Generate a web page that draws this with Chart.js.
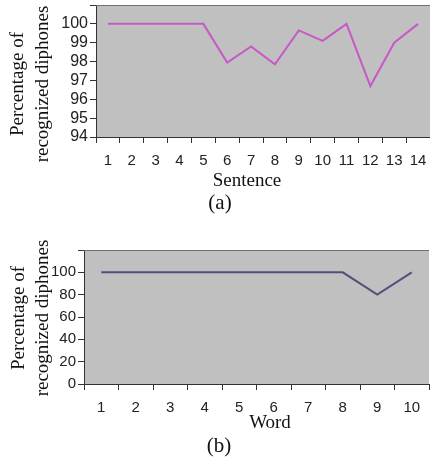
<!DOCTYPE html>
<html>
<head>
<meta charset="utf-8">
<script src="https://cdn.jsdelivr.net/npm/chart.js@4/dist/chart.umd.min.js"></script>
<style>
    body { margin: 0; background: #fff; }
    .panel { position: absolute; left: 0; width: 430px; }
    #panelA { top: 0; height: 220px; }
    #panelB { top: 220px; height: 239px; }
</style>
</head>
<body>
<div class="panel" id="panelA"><canvas id="sentenceChart"></canvas></div>
<div class="panel" id="panelB"><canvas id="wordChart"></canvas></div>
<script>
// Data
const sentenceLabels = ['1', '2', '3', '4', '5', '6', '7', '8', '9', '10', '11', '12', '13', '14'];
const sentenceValues = [100, 100, 100, 100, 100, 97.95, 98.8, 97.85, 99.65, 99.1, 100, 96.7, 99.0, 100];
const sentenceTicks = [94, 95, 96, 97, 98, 99, 100];

const wordLabels = ['1', '2', '3', '4', '5', '6', '7', '8', '9', '10'];
const wordValues = [100, 100, 100, 100, 100, 100, 100, 100, 80, 100];
const wordTicks = [0, 20, 40, 60, 80, 100];

const yTitle = ['Percentage of', 'recognized diphones'];

// Gray plot area, border and serif titles
const panelText = {
    id: 'panelText',
    beforeDraw(chart) {
        const a = chart.chartArea;
        const c = chart.ctx;
        c.save();
        c.fillStyle = '#c0c0c0';
        c.fillRect(a.left, a.top, a.right - a.left, a.bottom - a.top);
        c.restore();
    },
    afterDraw(chart, args, opts) {
        const a = chart.chartArea;
        const c = chart.ctx;
        c.save();
        c.strokeStyle = '#707070';
        c.lineWidth = 1;
        c.beginPath();
        c.moveTo(a.left, a.top + 0.5);
        c.lineTo(a.right, a.top + 0.5);
        c.stroke();

        c.fillStyle = '#111';
        c.font = '19px "Liberation Serif", "Times New Roman", serif';
        c.textAlign = 'center';
        c.textBaseline = 'middle';
        // rotated y title, two lines
        opts.yTitle.forEach((line, i) => {
            c.save();
            c.translate(opts.yTitleX[i], opts.yTitleY);
            c.rotate(-Math.PI / 2);
            c.fillText(line, 0, 0);
            c.restore();
        });
        c.fillText(opts.xTitle, opts.xTitleX, opts.xTitleY);
        c.font = '21px "Liberation Serif", "Times New Roman", serif';
        c.fillText(opts.caption, opts.captionX, opts.captionY);
        c.restore();
    }
};

function createPanel(canvasId, labels, values, ticks, yMax, color, layout, text) {
    const ctx = document.getElementById(canvasId).getContext('2d');
    return new Chart(ctx, {
        type: 'line',
        data: {
            labels: labels,
            datasets: [{
                data: values,
                borderColor: color,
                borderWidth: 2,
                pointRadius: 0,
                tension: 0,
                fill: false
            }]
        },
        options: {
            responsive: true,
            maintainAspectRatio: false,
            animation: false,
            layout: { padding: { top: layout.top, right: layout.right, left: 0, bottom: 0 } },
            plugins: {
                legend: { display: false },
                tooltip: { enabled: false },
                panelText: text
            },
            scales: {
                x: {
                    offset: true,
                    grid: { offset: true, drawOnChartArea: false, drawTicks: true, tickLength: 6, color: '#333' },
                    border: { color: '#333', width: 1 },
                    ticks: { color: '#222', font: { family: '"Liberation Sans", Arial, sans-serif', size: 15 }, padding: 9, maxRotation: 0, autoSkip: false },
                    afterFit: scale => {
                        scale.height = layout.xHeight;
                        scale.paddingLeft = 0;
                        scale.paddingRight = 0;
                    }
                },
                y: {
                    min: ticks[0],
                    max: yMax,
                    afterBuildTicks: scale => {
                        scale.ticks = ticks.concat([yMax]).map(v => ({ value: v }));
                    },
                    grid: { drawOnChartArea: false, drawTicks: true, tickLength: 6, color: '#333' },
                    border: { color: '#333', width: 1 },
                    ticks: {
                        color: '#222',
                        autoSkip: false,
                        font: { family: '"Liberation Sans", Arial, sans-serif', size: layout.yFont },
                        padding: 2,
                        callback: v => (ticks.includes(v) ? String(v) : '')
                    },
                    afterFit: scale => {
                        scale.width = layout.yWidth;
                        scale.paddingTop = 0;
                        scale.paddingBottom = 0;
                    }
                }
            }
        },
        plugins: [panelText]
    });
}

document.addEventListener('DOMContentLoaded', function() {
    createPanel('sentenceChart', sentenceLabels, sentenceValues, sentenceTicks, 101, '#c858c8',
        { top: 5, right: 0, xHeight: 83, yWidth: 96, yFont: 16 },
        { yTitle: yTitle, yTitleX: [18, 43], yTitleY: 84, xTitle: 'Sentence', xTitleX: 247, xTitleY: 181, caption: '(a)', captionX: 220, captionY: 203 });

    createPanel('wordChart', wordLabels, wordValues, wordTicks, 120, '#50507e',
        { top: 30, right: 1, xHeight: 75, yWidth: 84, yFont: 15 },
        { yTitle: yTitle, yTitleX: [19, 43], yTitleY: 98, xTitle: 'Word', xTitleX: 270, xTitleY: 203, caption: '(b)', captionX: 219, captionY: 226 });
});
</script>
</body>
</html>
